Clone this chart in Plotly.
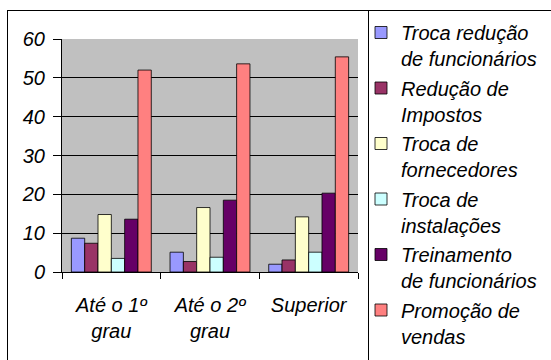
import plotly.graph_objects as go

categories = ["Até o 1º<br>grau", "Até o 2º<br>grau", "Superior"]
series_names = [
    "Troca redução<br>de funcionários",
    "Redução de<br>Impostos",
    "Troca de<br>fornecedores",
    "Troca de<br>instalações",
    "Treinamento<br>de funcionários",
    "Promoção de<br>vendas",
]
troca_reducao = [8.7, 5.1, 2.0]
reducao_impostos = [7.4, 2.7, 3.1]
troca_fornecedores = [14.8, 16.6, 14.2]
troca_instalacoes = [3.5, 3.8, 5.1]
treinamento = [13.6, 18.5, 20.3]
promocao = [52.0, 53.6, 55.4]
y_ticks = [0, 10, 20, 30, 40, 50, 60]

series_values = [troca_reducao, reducao_impostos, troca_fornecedores,
                 troca_instalacoes, treinamento, promocao]
colors = ["#9999FF", "#993366", "#FFFFCC", "#CCFFFF", "#660066", "#FF8080"]

FONT = "Liberation Sans, Arial, sans-serif"

fig = go.Figure()
for i, (name, vals) in enumerate(zip(series_names, series_values)):
    fig.add_trace(go.Bar(
        x=categories, y=vals, name=name, legendgroup=str(i),
        marker=dict(color=colors[i], line=dict(color="#000000", width=0.8)),
    ))

W, H = 551, 360
L, R, T, B = 62, 358, 39, 272
pw, ph = R - L, B - T

def px(x):
    return (x - L) / pw

def py(y):
    return (B - y) / ph

fig.update_layout(
    width=W, height=H,
    margin=dict(l=L, r=W - R, t=T, b=H - B, autoexpand=False),
    paper_bgcolor="white",
    plot_bgcolor="#C0C0C0",
    barmode="group", bargap=0.19, bargroupgap=0,
    font=dict(family=FONT, size=20, color="black", style="italic"),
    showlegend=True,
    legend=dict(x=361 / W, xref="container", y=1 - 13 / H, yref="container",
                xanchor="left", yanchor="top", maxheight=1,
                valign="top", tracegroupgap=0.5, borderwidth=0,
                bgcolor="rgba(0,0,0,0)",
                font=dict(family=FONT, size=20, style="italic")),
    xaxis=dict(showline=True, linecolor="black", linewidth=1,
               ticks="outside", tickson="boundaries", ticklen=6,
               tickcolor="black", showgrid=False, ticklabelstandoff=15,
               tickfont=dict(family=FONT, size=20, style="italic")),
    yaxis=dict(range=[0, 60], tickvals=y_ticks, showline=True, linecolor="black",
               linewidth=1, ticks="outside", ticklen=8, tickcolor="black",
               showgrid=True, gridcolor="black", gridwidth=1, zeroline=False,
               ticklabelstandoff=4,
               tickfont=dict(family=FONT, size=20, style="italic")),
    shapes=[
        dict(type="line", xref="paper", yref="paper", x0=px(7), x1=px(560),
             y0=py(10.5), y1=py(10.5), line=dict(color="black", width=1)),
        dict(type="line", xref="paper", yref="paper", x0=px(7.5), x1=px(7.5),
             y0=py(10), y1=py(370), line=dict(color="black", width=1)),
        dict(type="line", xref="paper", yref="paper", x0=px(368.5), x1=px(368.5),
             y0=py(10), y1=py(370), line=dict(color="black", width=1)),
    ],
)

fig.write_html("out.html", config={"displayModeBar": False},
               post_script="document.body.style.margin='0';")
